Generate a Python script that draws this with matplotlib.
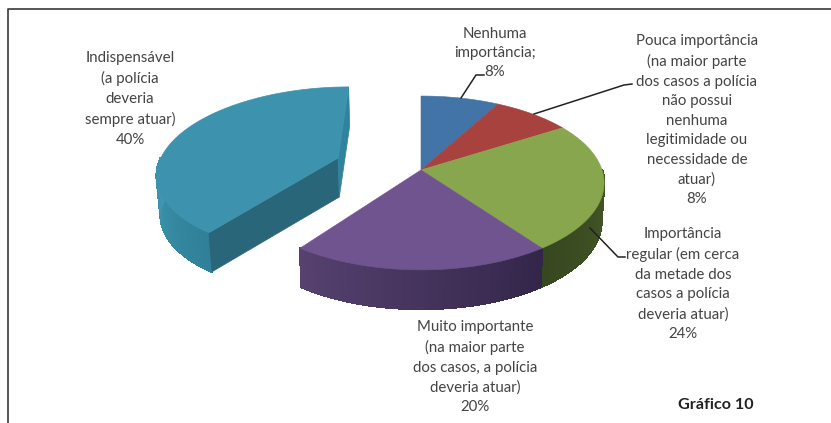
import numpy as np
import matplotlib
matplotlib.use("Agg")
import matplotlib.pyplot as plt
from matplotlib.patches import Polygon

plt.rcParams['font.family'] = ['Lato', 'DejaVu Sans']

# slices clockwise from 12 o'clock
labels = [
    "Nenhuma\nimportância;\n8%",
    "Pouca importância\n(na maior parte\ndos casos a polícia\nnão possui\nnenhuma\nlegitimidade ou\nnecessidade de\natuar)\n8%",
    "Importância\nregular (em cerca\nda metade dos\ncasos a polícia\ndeveria atuar)\n24%",
    "Muito importante\n(na maior parte\ndos casos, a polícia\ndeveria atuar)\n20%",
    "Indispensável\n(a polícia\ndeveria\nsempre atuar)\n40%",
]
shares = [8, 8, 24, 20, 40]
top_colors = ["#4374a8", "#a8423f", "#88a64e", "#70548f", "#3d93ae"]
side_dark = [None, None, ("#46592a", "#37471f"), ("#33264a", "#56416f"), None]
label_pos = [(495, 53), (697, 120), (683, 284), (475, 367), (130, 99)]

# projection of the tilted disc onto pixels
cx, cy = 421, 170
rx, ry = 181, 85
k = 0.149
depth = 39
shrink = 0.985
explode = (-0.468, 0.144)


def project(u, v, down=False):
    w = 1 + k * v
    x = rx * u / w
    y = ry * v / w
    if down:
        x = x * shrink
        y = y - depth
    return cx + x, cy - y


def rim(a0, a1, off=(0, 0), n=80):
    t = np.radians(np.linspace(a0, a1, n))
    return off[0] + np.sin(t), off[1] + np.cos(t)


def blend(c0, c1, f):
    a = np.array(matplotlib.colors.to_rgb(c0))
    b = np.array(matplotlib.colors.to_rgb(c1))
    return a + (b - a) * f


def side_strip(ax, u, v, c0, c1):
    # outer wall as thin quads so the shade can run along it
    n = len(u)
    for i in range(n - 1):
        x0, y0 = project(u[i], v[i])
        x1, y1 = project(u[i + 1], v[i + 1])
        x2, y2 = project(u[i + 1], v[i + 1], True)
        x3, y3 = project(u[i], v[i], True)
        col = blend(c0, c1, i / (n - 2))
        ax.add_patch(Polygon([(x0, y0), (x1, y1), (x2, y2), (x3, y3)], fc=col, ec=col, lw=1.2, antialiased=False))


fig = plt.figure(figsize=(8.31, 4.23), dpi=100)
ax = fig.add_axes([0, 0, 1, 1])
ax.set_xlim(0, 831)
ax.set_ylim(423, 0)
ax.axis('off')

# frame, open on the right
ax.plot([7.5, 7.5, 831], [423, 9, 9], color="#3a3a3a", lw=1.2)

edges = np.cumsum([0] + shares) * 3.6

# exploded slice first, it sits behind the rest
u, v = rim(edges[4], edges[5], explode)
corner = (u[0], v[0])
top_end = (u[-1], v[-1])
# wall of the rim, only the front part shows
ul, vl = rim(edges[4], 270, explode, 50)
side_strip(ax, ul, vl, "#2f7f97", "#3f97b1")
# cut faces
pts = [project(*explode), project(*corner), project(*corner, True), project(*explode, True)]
ax.add_patch(Polygon(pts, fc="#2a6679", ec="#2a6679", lw=0.5))
pts = [project(*explode), project(*top_end), project(*top_end, True), project(*explode, True)]
ax.add_patch(Polygon(pts, fc="#30839c", ec="#30839c", lw=0.5))
xs, ys = project(np.r_[explode[0], u], np.r_[explode[1], v])
ax.add_patch(Polygon(np.c_[xs, ys], fc=top_colors[4], ec=top_colors[4], lw=0.5))

# front wall of the remaining pie
for i in [2, 3]:
    lo = max(edges[i], 90)
    ue, ve = rim(lo, edges[i + 1], n=60)
    side_strip(ax, ue, ve, side_dark[i][0], side_dark[i][1])

# top faces
for i in range(4):
    ue, ve = rim(edges[i], edges[i + 1])
    xs, ys = project(np.r_[0, ue], np.r_[0, ve])
    ax.add_patch(Polygon(np.c_[xs, ys], fc=top_colors[i], ec=top_colors[i], lw=0.4))

# leader lines
ax.plot([461, 476, 484], [98, 75, 75], color="#222222", lw=1.1)
ax.plot([534, 624, 632], [114, 85, 84], color="#222222", lw=1.1)
ax.plot([590, 618, 625], [228, 257, 257], color="#222222", lw=1.1)

for text, (x, y) in zip(labels, label_pos):
    ax.text(x, y, text, ha='center', va='center', fontsize=10.8, color="#444444", linespacing=1.5)

ax.text(716, 405, "Gráfico 10", ha='center', va='center', fontsize=11.6, fontweight='bold', color="#222222")

fig.savefig("out.png", dpi=100)
